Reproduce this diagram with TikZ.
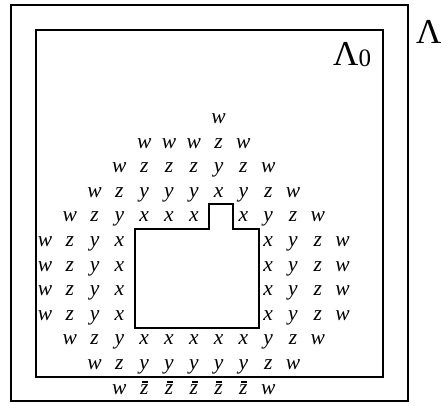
\documentclass[tikz,border=0pt]{standalone}
\usepackage{fontspec}
\setmainfont{Liberation Serif}
\newcommand{\zbar}{\rlap{\hspace{2pt}\rule[11.5pt]{6pt}{1.6pt}}z}

\begin{document}
\begin{tikzpicture}[x=1pt, y=-1pt, line width=2.3pt,
    lbl/.style={anchor=base, inner sep=0pt, font=\fontsize{21.5}{24}\selectfont\itshape},
    big/.style={anchor=base west, inner sep=0pt, font=\fontsize{35}{35}\selectfont}]
  \useasboundingbox (0,0) rectangle (443,405);
  % the two regions
  \draw (11,5) rectangle (408,401);
  \draw (36,30) rectangle (383,377);
  \node[big] (lam) at (415,43) {Λ};
  \node[big] (lamzero) at (332,65) {Λ\raisebox{-1pt}{\fontsize{25}{25}\selectfont 0}};
  % the set in the middle
  \draw (135,229) -- (209,229) -- (209,204) -- (233,204) -- (233,229) -- (259,229)
    -- (259,328) -- (135,328) -- cycle;
  % letters, row / first column / entries
  \foreach \r/\s/\row in {1/7/{w}, 2/4/{w,w,w,z,w}, 3/3/{w,z,z,z,y,z,w},
      4/2/{w,z,y,y,y,x,y,z,w}, 5/1/{w,z,y,x,x,x}, 5/8/{x,y,z,w},
      6/0/{w,z,y,x}, 6/9/{x,y,z,w}, 7/0/{w,z,y,x}, 7/9/{x,y,z,w},
      8/0/{w,z,y,x}, 8/9/{x,y,z,w}, 9/0/{w,z,y,x}, 9/9/{x,y,z,w},
      10/1/{w,z,y,x,x,x,x,x,y,z,w}, 11/2/{w,z,y,y,y,y,y,z,w},
      12/3/{w,\zbar,\zbar,\zbar,\zbar,\zbar,w}}
    \foreach \t [count=\c from \s] in \row
      \node[lbl] (r\r c\c) at ({45+24.8*\c},{123.5+24.6*(\r-1)}) {\t};
\end{tikzpicture}
\end{document}
